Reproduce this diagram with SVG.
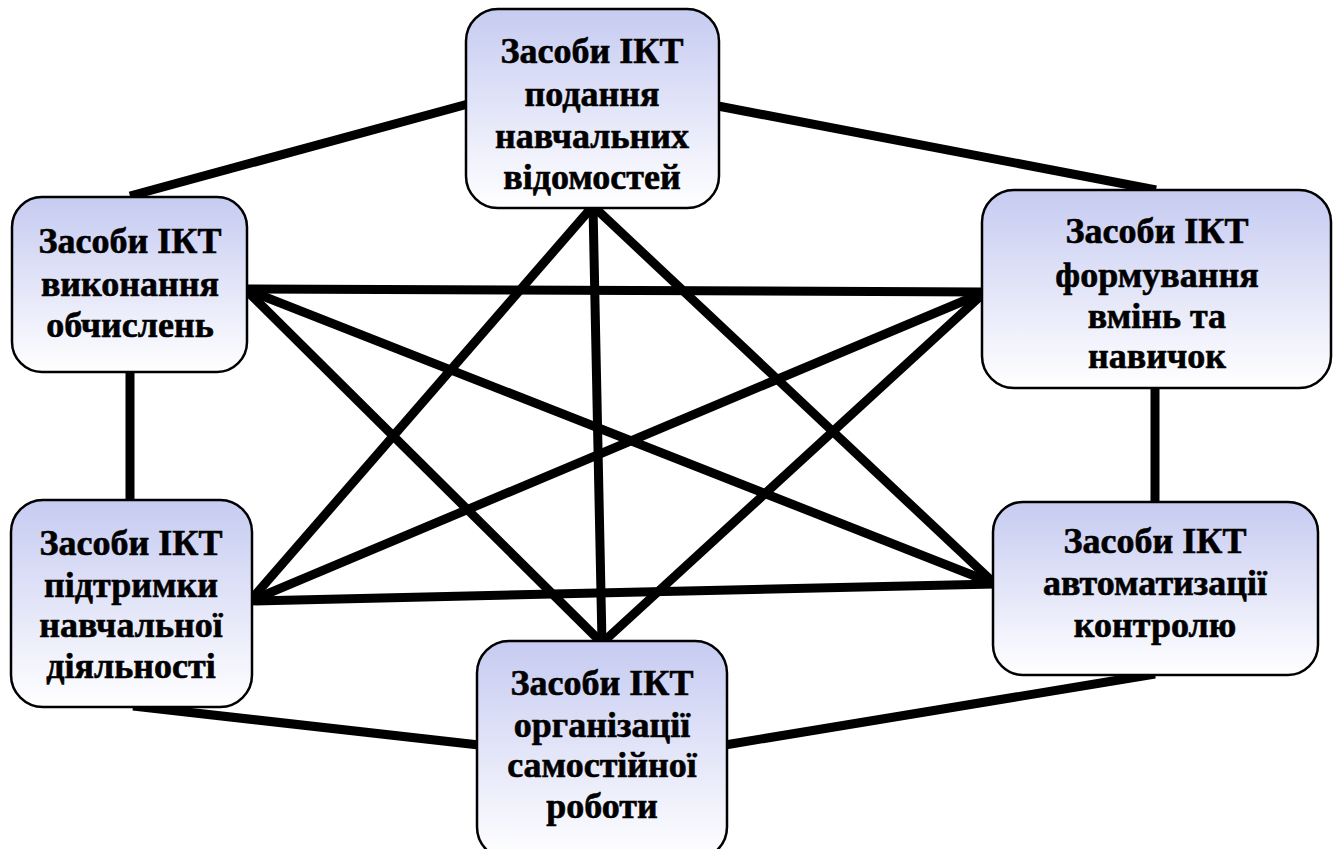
<svg xmlns="http://www.w3.org/2000/svg" width="1339" height="849" viewBox="0 0 1339 849">
<defs>
<linearGradient id="g" x1="0" y1="0" x2="0" y2="1">
<stop offset="0" stop-color="#c6cbf1"/>
<stop offset="1" stop-color="#ffffff"/>
</linearGradient>
</defs>
<style>
.box{fill:url(#g);stroke:#000;stroke-width:2.5}
.t{font-family:"Liberation Serif","Times New Roman",serif;font-weight:bold;font-size:36px;fill:#000;text-anchor:middle;stroke:#000;stroke-width:0.6}
.e{stroke:#000;stroke-width:9;fill:none;stroke-linecap:butt}
</style>
<rect width="1339" height="849" fill="#fff"/>
<g id="connectors">
<line class="e" x1="468" y1="104" x2="130" y2="196"/>
<line class="e" x1="718" y1="106" x2="1156" y2="190"/>
<line class="e" x1="130" y1="370" x2="130" y2="502"/>
<line class="e" x1="1155" y1="386" x2="1155" y2="504"/>
<line class="e" x1="133" y1="706" x2="479" y2="745"/>
<line class="e" x1="1155" y1="674" x2="725" y2="745"/>
<line class="e" x1="593" y1="206" x2="250" y2="601"/>
<line class="e" x1="593" y1="206" x2="995" y2="584"/>
<line class="e" x1="593" y1="206" x2="602" y2="643"/>
<line class="e" x1="245" y1="289" x2="985" y2="292"/>
<line class="e" x1="245" y1="289" x2="995" y2="584"/>
<line class="e" x1="245" y1="289" x2="602" y2="643"/>
<line class="e" x1="985" y1="292" x2="250" y2="601"/>
<line class="e" x1="985" y1="292" x2="602" y2="643"/>
<line class="e" x1="250" y1="601" x2="995" y2="584"/>
</g>
<g id="n-top">
<rect class="box" x="466" y="9" width="253" height="199" rx="32"/>
<text class="t" x="592" y="63">Засоби ІКТ</text>
<text class="t" x="592" y="106">подання</text>
<text class="t" x="592" y="148">навчальних</text>
<text class="t" x="592" y="189">відомостей</text>
</g>
<g id="n-left-upper">
<rect class="box" x="12" y="197" width="235" height="175" rx="30"/>
<text class="t" x="130" y="253">Засоби ІКТ</text>
<text class="t" x="130" y="296">виконання</text>
<text class="t" x="130" y="337">обчислень</text>
</g>
<g id="n-right-upper">
<rect class="box" x="982" y="190" width="349" height="198" rx="32"/>
<text class="t" x="1157" y="243">Засоби ІКТ</text>
<text class="t" x="1157" y="287">формування</text>
<text class="t" x="1157" y="328">вмінь та</text>
<text class="t" x="1157" y="368">навичок</text>
</g>
<g id="n-left-lower">
<rect class="box" x="11" y="500" width="241" height="207" rx="32"/>
<text class="t" x="131" y="555">Засоби ІКТ</text>
<text class="t" x="131" y="597">підтримки</text>
<text class="t" x="131" y="637">навчальної</text>
<text class="t" x="131" y="678">діяльності</text>
</g>
<g id="n-bottom">
<rect class="box" x="477" y="641" width="250" height="218" rx="32"/>
<text class="t" x="602" y="695">Засоби ІКТ</text>
<text class="t" x="602" y="737">організації</text>
<text class="t" x="602" y="777">самостійної</text>
<text class="t" x="602" y="818">роботи</text>
</g>
<g id="n-right-lower">
<rect class="box" x="993" y="502" width="325" height="173" rx="30"/>
<text class="t" x="1155" y="553">Засоби ІКТ</text>
<text class="t" x="1155" y="595">автоматизації</text>
<text class="t" x="1155" y="637">контролю</text>
</g>
</svg>
